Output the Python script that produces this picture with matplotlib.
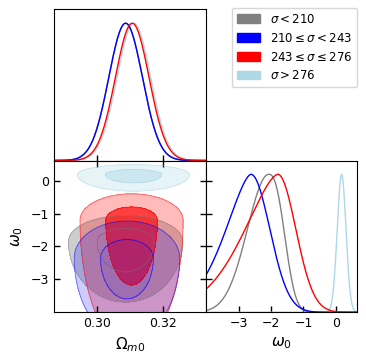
import numpy as np
import matplotlib
matplotlib.use("Agg")
import matplotlib.pyplot as plt
from matplotlib.colors import to_rgba
from matplotlib.patches import Patch

# samples: sigma bins
labels = [r"$\sigma < 210$", r"$210 \leq \sigma < 243$",
          r"$243 \leq \sigma \leq 276$", r"$\sigma > 276$"]
colors = ["gray", "blue", "red", "lightblue"]

# 1D marginal of Omega_m0 (peak, width)
om_peak = [0.3086, 0.3086, 0.3106, 0.3111]
om_width = [0.0072, 0.0072, 0.0072, 0.0072]

# 1D marginal of w0 (peak, left width, left power, right width, right power)
w_peak = [-2.07, -2.62, -1.79, 0.176]
w_sl = [0.925, 1.17, 1.54, 0.19]
w_pl = [2.0, 1.6, 1.6, 2.0]
w_sr = [0.61, 0.82, 0.78, 0.19]
w_pr = [2.5, 2.0, 2.0, 2.0]

# 2D posterior (Omega_m0 centre/width, w0 mode, upper/lower width)
c_om = [0.3086, 0.3090, 0.3104, 0.3110]
c_som = [0.0051, 0.0047, 0.0046, 0.0050]
c_w = [-1.85, -2.36, -1.195, 0.204]
c_wup = [0.235, 0.335, 0.238, 0.09]
c_wdn = [0.547, 0.735, 1.17, 0.15]
nu = 5.0

om_lim = (0.2869, 0.3328)
w_lim = (-4.02, 0.635)
om_ticks = [0.30, 0.32]
w_ticks = [-3, -2, -1, 0]
alpha_out = [0.38, 0.2, 0.27, 0.30]
alpha_in = [0.4, 0.27, 0.75, 0.6]
line_order = [3, 0, 1, 2]
fill_order = [0, 2, 1, 3]


def split_gen(x, m, sl, pl, sr, pr):
    d = x - m
    return np.where(d < 0, np.exp(-(np.abs(d) / sl) ** pl), np.exp(-(np.abs(d) / sr) ** pr))


fig = plt.figure(figsize=(3.66, 3.64), dpi=100)
W, H = 366, 364
ax_top = fig.add_axes([54 / W, 1 - 160.5 / H, 151.5 / W, 151 / H])
ax_2d = fig.add_axes([54 / W, 1 - 312.3 / H, 151.5 / W, 151.8 / H])
ax_r = fig.add_axes([205.5 / W, 1 - 312.3 / H, 151 / W, 151.8 / H])

tick_kw = dict(direction="in", length=4, width=1, labelsize=9)

# top: Omega_m0 marginals
x = np.linspace(om_lim[0], om_lim[1], 400)
for i in line_order:
    ax_top.plot(x, np.exp(-((x - om_peak[i]) / om_width[i]) ** 2), color=colors[i], lw=1)
ax_top.set_xlim(om_lim)
ax_top.set_ylim(0, 1.1)
ax_top.set_xticks(om_ticks)
ax_top.set_yticks([])
ax_top.tick_params(axis="x", labelbottom=False, **tick_kw)

# 2D contours (68% and 95%)
for i in fill_order:
    xs = np.linspace(c_om[i] - 10 * c_som[i], c_om[i] + 10 * c_som[i], 500)
    ys = np.linspace(c_w[i] - 10 * c_wdn[i], c_w[i] + 10 * c_wup[i], 500)
    X, Y = np.meshgrid(xs, ys)
    u = (X - c_om[i]) / c_som[i]
    v = np.where(Y < c_w[i], (Y - c_w[i]) / c_wdn[i], (Y - c_w[i]) / c_wup[i])
    f = (1 + (u ** 2 + v ** 2) / nu) ** (-(nu + 2) / 2)
    fs = np.sort(f.ravel())[::-1]
    cs = np.cumsum(fs) / fs.sum()
    l68 = fs[np.searchsorted(cs, 0.68)]
    l95 = fs[np.searchsorted(cs, 0.95)]
    ax_2d.contourf(X, Y, f, levels=[l95, l68, f.max() * 1.01],
                   colors=[to_rgba(colors[i], alpha_out[i]), to_rgba(colors[i], alpha_in[i])])
    ax_2d.contour(X, Y, f, levels=[l95, l68], colors=[colors[i]], linewidths=0.7, alpha=0.45)
ax_2d.set_xlim(om_lim)
ax_2d.set_ylim(w_lim)
ax_2d.set_xticks(om_ticks)
ax_2d.set_yticks(w_ticks)
ax_2d.tick_params(top=True, right=True, **tick_kw)
ax_2d.set_xlabel(r"$\Omega_{m0}$", fontsize=11)
ax_2d.set_ylabel(r"$\omega_0$", fontsize=11)

# right: w0 marginals
x = np.linspace(w_lim[0], w_lim[1], 600)
for i in line_order:
    ax_r.plot(x, split_gen(x, w_peak[i], w_sl[i], w_pl[i], w_sr[i], w_pr[i]), color=colors[i], lw=1)
ax_r.set_xlim(w_lim)
ax_r.set_ylim(0, 1.1)
ax_r.set_xticks(w_ticks)
ax_r.set_yticks([(t - w_lim[0]) / (w_lim[1] - w_lim[0]) * 1.1 for t in w_ticks])
ax_r.tick_params(axis="y", labelleft=False, **tick_kw)
ax_r.tick_params(axis="x", **tick_kw)
ax_r.set_xlabel(r"$\omega_0$", fontsize=11)

handles = [Patch(color=c) for c in colors]
fig.legend(handles, labels, loc="upper right", bbox_to_anchor=(357 / W, 1 - 8 / H),
           fontsize=8.5, handlelength=2.0, borderaxespad=0)

fig.savefig("out.png", dpi=100)
